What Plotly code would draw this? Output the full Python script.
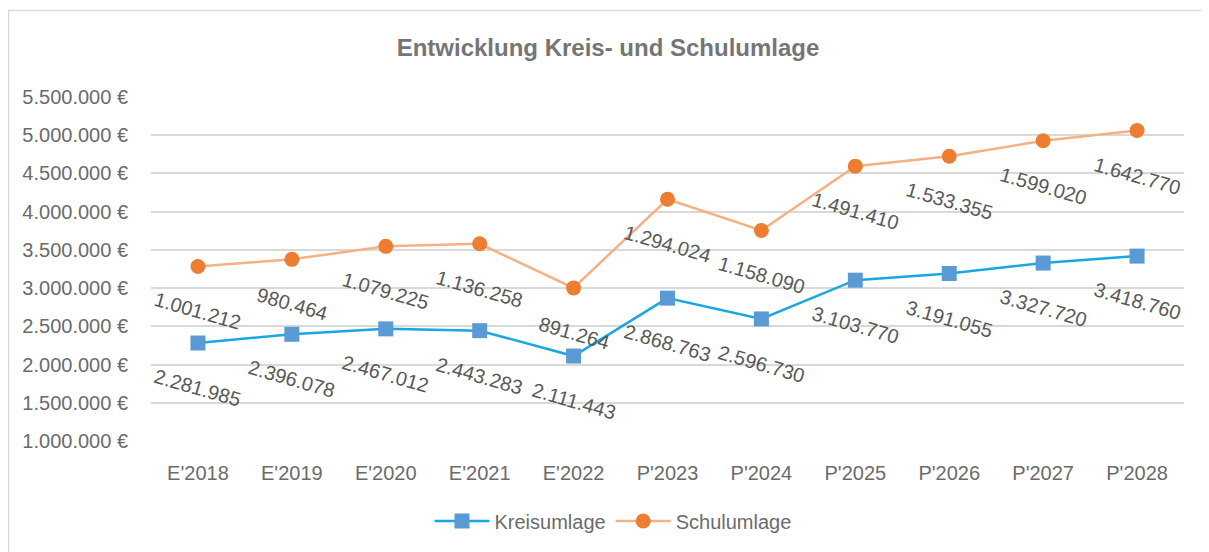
import plotly.graph_objects as go

categories = ["E'2018", "E'2019", "E'2020", "E'2021", "E'2022", "P'2023",
              "P'2024", "P'2025", "P'2026", "P'2027", "P'2028"]
kreisumlage = [2281985, 2396078, 2467012, 2443283, 2111443, 2868763,
               2596730, 3103770, 3191055, 3327720, 3418760]
schulumlage = [1001212, 980464, 1079225, 1136258, 891264, 1294024,
               1158090, 1491410, 1533355, 1599020, 1642770]
y_ticks = [1000000, 1500000, 2000000, 2500000, 3000000, 3500000,
           4000000, 4500000, 5000000, 5500000]

def fmt(v):
    return f"{v:,}".replace(",", ".")

stacked = [k + s for k, s in zip(kreisumlage, schulumlage)]

FONT = "Liberation Sans, Arial, sans-serif"
OFF = 8  # page body margin offset
W, H = 1209, 552
L, T = 151 - OFF, 97 - OFF
PW, PH = 1033, 344
R = W - L - PW
B = H - T - PH

def px_x(px):
    return (px - OFF - L) / PW

def px_y(py):
    return (T + PH - (py - OFF)) / PH

fig = go.Figure()
fig.add_trace(go.Scatter(
    x=categories, y=kreisumlage, name="Kreisumlage", mode="lines+markers",
    line=dict(color="#1AA7E1", width=2.5),
    marker=dict(symbol="square", size=15, color="#5B9BD5"),
))
fig.add_trace(go.Scatter(
    x=categories, y=stacked, name="Schulumlage", mode="lines+markers",
    line=dict(color="#F4B183", width=2.5),
    marker=dict(symbol="circle", size=15, color="#ED7D31"),
))

annotations = []
for c, yk, vk, ys, vs in zip(categories, kreisumlage, kreisumlage, stacked, schulumlage):
    for yy, vv in ((yk, vk), (ys, vs)):
        annotations.append(dict(
            x=c, y=yy, xref="x", yref="y", text=fmt(vv), showarrow=False,
            yshift=-45, textangle=16,
            font=dict(family=FONT, size=20, color="#595959"),
        ))

fig.update_layout(
    width=W, height=H,
    margin=dict(l=L, r=R, t=T, b=B),
    paper_bgcolor="white", plot_bgcolor="white",
    separators=",.",
    title=dict(text="<b>Entwicklung Kreis- und Schulumlage</b>",
               x=(608 - OFF) / W, xref="container", xanchor="center",
               y=1 - (48 - OFF) / H, yref="container", yanchor="middle",
               font=dict(family=FONT, size=24, color="#757575")),
    xaxis=dict(range=[-0.5, 10.5], showgrid=False, showline=False,
               ticks="outside", ticklen=14, tickcolor="rgba(0,0,0,0)",
               tickfont=dict(family=FONT, size=20, color="#6b6b6b"),
               fixedrange=True),
    yaxis=dict(range=[1000000, 5500000], tickvals=y_ticks,
               ticktext=[fmt(v) + " €" for v in y_ticks],
               showgrid=True, gridcolor="#d9d9d9", gridwidth=1.5,
               zeroline=False, showline=False,
               ticks="outside", ticklen=18, tickcolor="rgba(0,0,0,0)",
               tickfont=dict(family=FONT, size=20, color="#6b6b6b")),
    legend=dict(orientation="h", x=px_x(613), y=px_y(521),
                xanchor="center", yanchor="middle", itemwidth=55,
                font=dict(family=FONT, size=20, color="#6b6b6b"),
                bgcolor="rgba(0,0,0,0)"),
    annotations=annotations,
    shapes=[dict(type="rect", xref="paper", yref="paper",
                 x0=px_x(8.5), x1=px_x(1215), y0=px_y(560), y1=px_y(10.5),
                 line=dict(color="#d9d9d9", width=1.5), layer="below")],
    showlegend=True,
)

fig.write_html("out.html")
